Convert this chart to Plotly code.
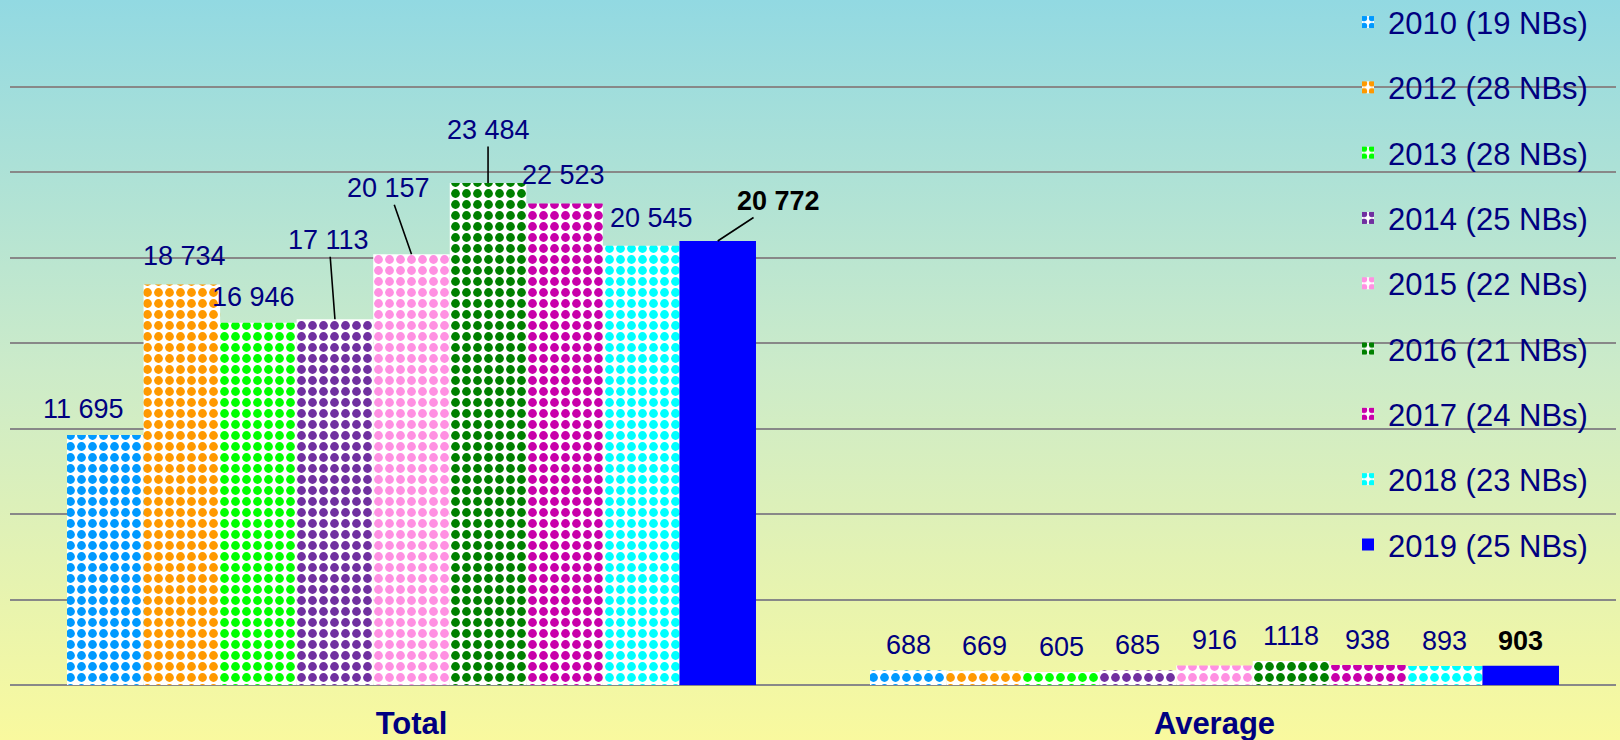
import base64
import plotly.graph_objects as go

# ---------------- data ----------------
categories = ["Total", "Average"]
series_names = ["2010 (19 NBs)", "2012 (28 NBs)", "2013 (28 NBs)", "2014 (25 NBs)",
                "2015 (22 NBs)", "2016 (21 NBs)", "2017 (24 NBs)", "2018 (23 NBs)",
                "2019 (25 NBs)"]
total_values = [11695, 18734, 16946, 17113, 20157, 23484, 22523, 20545, 20772]
average_values = [688, 669, 605, 685, 916, 1118, 938, 893, 903]

# ---------------- style ----------------
colors = ["#0099FF", "#FF9900", "#00FF00", "#7030A0", "#FF90E2",
          "#008000", "#C800AA", "#00FFFF", "#0000FF"]
patterned = [True] * 8 + [False]
NAVY = "#000080"
FONT = "Liberation Sans, Arial, sans-serif"
W, H = 1620, 740
ML, MR, MT, MB = 10, 4, 1, 55
BARGAP = 0.142

# label offsets (pixels) for the "Total" group: (dx, dy, leader line?)
total_label_offsets = [(-22, -26, False), (3, -29, False), (-5, -26, False),
                       (-6, -79, True), (-23, -66, True), (0, -53, True),
                       (-1, -29, False), (10, -28, False), (61, -40, True)]
avg_label_offset = (0, -25, False)


def fmt(v):
    return f"{v:,}".replace(",", " ") if v >= 10000 else str(v)


fig = go.Figure()
for i, name in enumerate(series_names):
    marker = dict(color=colors[i], line=dict(width=0))
    if patterned[i]:
        marker["pattern"] = dict(shape=".", fillmode="replace", bgcolor="white",
                                 fgcolor=colors[i], size=11, solidity=0.5)
    fig.add_trace(go.Bar(
        x=categories, y=[total_values[i], average_values[i]], name=name,
        marker=marker, legendgroup=name, hoverinfo="skip"))

# data labels
n = len(series_names)
bw = (1 - BARGAP) / n
annotations = []
for i in range(n):
    last = (i == n - 1)
    font = dict(family=FONT, size=27, color="black" if last else NAVY)
    for j, vals in enumerate([total_values, average_values]):
        v = vals[i]
        txt = fmt(v)
        if last:
            txt = f"<b>{txt}</b>"
        dx, dy, arrow = total_label_offsets[i] if j == 0 else avg_label_offset
        xpos = j + (i - (n - 1) / 2) * bw
        if arrow:
            annotations.append(dict(x=xpos, y=v, xref="x", yref="y", text=txt,
                                    showarrow=True, ax=dx, ay=dy, arrowhead=0,
                                    arrowwidth=1.6, arrowcolor="black", standoff=0,
                                    font=font))
        else:
            annotations.append(dict(x=xpos, y=v, xref="x", yref="y", text=txt,
                                    showarrow=False, xshift=dx, yshift=-dy,
                                    font=font))

# background gradient
svg = (f'<svg xmlns="http://www.w3.org/2000/svg" width="{W}" height="{H}" '
       f'preserveAspectRatio="none"><defs><linearGradient id="g" x1="0" y1="0" x2="0" y2="1">'
       f'<stop offset="0" stop-color="#92D9E2"/><stop offset="0.5" stop-color="#CCEBC9"/>'
       f'<stop offset="1" stop-color="#F9F99E"/>'
       f'</linearGradient></defs><rect width="{W}" height="{H}" fill="url(#g)"/></svg>')
uri = "data:image/svg+xml;base64," + base64.b64encode(svg.encode()).decode()
pw, ph = W - ML - MR, H - MT - MB

fig.update_layout(
    width=W, height=H,
    margin=dict(l=ML, r=MR, t=MT, b=MB, autoexpand=False),
    barmode="group", bargap=BARGAP, bargroupgap=0,
    paper_bgcolor="#C9EAC8", plot_bgcolor="rgba(0,0,0,0)",
    images=[dict(source=uri, xref="paper", yref="paper", x=-ML / pw, y=1 + MT / ph,
                 sizex=W / pw, sizey=H / ph, xanchor="left", yanchor="top",
                 sizing="stretch", layer="below")],
    xaxis=dict(type="category", categoryorder="array", categoryarray=categories,
               range=[-0.5, 1.5], showgrid=False, showline=False, zeroline=False,
               ticks="outside", ticklen=11, tickcolor="rgba(0,0,0,0)",
               tickfont=dict(family=FONT, size=31, color=NAVY, weight="bold")),
    yaxis=dict(range=[0, 32000], tickvals=list(range(0, 28001, 4000)),
               showticklabels=False, showgrid=True, gridcolor="#888888", gridwidth=2,
               zeroline=True, zerolinecolor="#888888", zerolinewidth=2, showline=False),
    legend=dict(x=(1348 - ML) / pw, xanchor="left", y=1 + 5.6 / ph, yanchor="top",
                bgcolor="rgba(0,0,0,0)", traceorder="grouped", tracegroupgap=22,
                maxheight=740,
                font=dict(family=FONT, size=31, color=NAVY)),
    annotations=annotations,
    showlegend=True,
)

fig.write_html("out.html", config={"displayModeBar": False},
               post_script="document.body.style.margin='0';"
                           "document.body.style.overflow='hidden';")
